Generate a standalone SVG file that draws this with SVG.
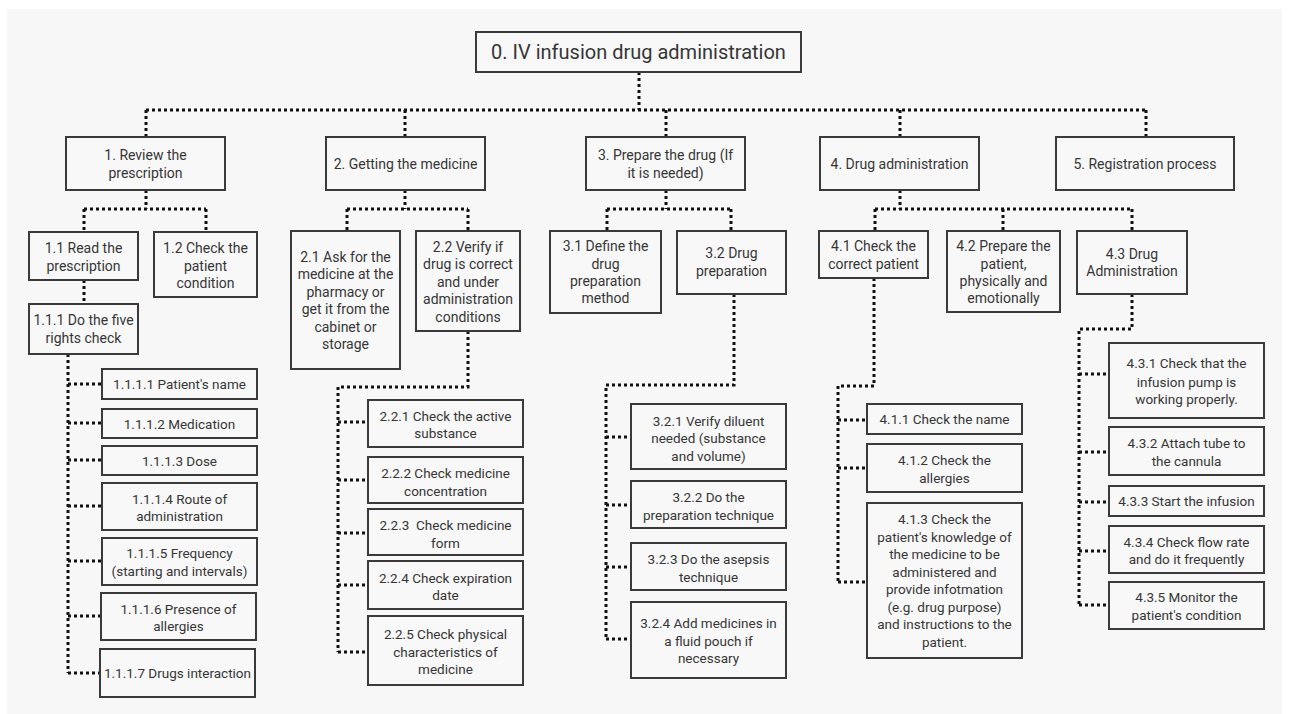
<svg xmlns="http://www.w3.org/2000/svg" width="1289" height="714" viewBox="0 0 1289 714">
<style>
.bg{fill:#f7f7f7}
.box{fill:#f8f8f8;stroke:#3a3a3a;stroke-width:2}
text{font-family:Roboto,"Liberation Sans",sans-serif;fill:#363636;text-anchor:middle}
.t0{font-size:20px}
.t1{font-size:14px}
.t2{font-size:14px}
.t3{font-size:13.5px}
.conn path{fill:none;stroke:#111;stroke-width:3;stroke-dasharray:3 3}
</style>
<rect width="1289" height="714" fill="#ffffff"/>
<rect class="bg" x="7" y="9" width="1275" height="705"/>

<g class="conn" id="connectors">
<path d="M639 72V110M146 110H1146M146 110V137M405 110V137M666 110V137M900 110V137M1146 110V137"/>
<path d="M146 190V209M84 209H206M84 209V232M206 209V232M84 280V304"/>
<path d="M68 354V673M68 384H102M68 423H102M68 460H102M68 506H102M68 561H102M68 616H101M68 673H100"/>
<path d="M405 190V209M347 209H468M347 209V231M468 209V231"/>
<path d="M468 331V387H338V652M338 422H368M338 480H368M338 533H368M338 585H368M338 652H368"/>
<path d="M666 190V209M607 209H731M607 209V231M731 209V231"/>
<path d="M734 294V385H606V639M606 437H631M606 505H631M606 567H631M606 639H631"/>
<path d="M900 190V209M875 209H1132M875 209V231M1003 209V231M1132 209V231"/>
<path d="M874 278V386H838V582M838 420H867M838 468H867M838 582H867"/>
<path d="M1132 294V329H1079V605M1079 374H1109M1079 452H1109M1079 502H1109M1079 551H1109M1079 605H1109"/>
</g>

<g id="n0"><rect class="box" x="476" y="32" width="325" height="40"/><text class="t0" x="638.5" y="59">0. IV infusion drug administration</text></g>

<g id="n1"><rect class="box" x="66" y="137" width="159" height="53"/><text class="t1"><tspan x="145.5" y="160">1. Review the</tspan><tspan x="145.5" y="178">prescription</tspan></text></g>
<g id="n2"><rect class="box" x="326" y="137" width="159" height="53"/><text class="t1" x="405.5" y="168.5">2. Getting the medicine</text></g>
<g id="n3"><rect class="box" x="586" y="137" width="159" height="53"/><text class="t1"><tspan x="665.5" y="160">3. Prepare the drug (If</tspan><tspan x="665.5" y="178">it is needed)</tspan></text></g>
<g id="n4"><rect class="box" x="820" y="137" width="159" height="53"/><text class="t1" x="899.5" y="168.5">4. Drug administration</text></g>
<g id="n5"><rect class="box" x="1056" y="137" width="178" height="53"/><text class="t1" x="1145" y="168.5">5. Registration process</text></g>

<g id="n1_1"><rect class="box" x="29" y="232" width="109" height="48"/><text class="t2"><tspan x="83.5" y="253">1.1 Read the</tspan><tspan x="83.5" y="271">prescription</tspan></text></g>
<g id="n1_2"><rect class="box" x="154" y="232" width="103" height="65"/><text class="t2"><tspan x="205.5" y="253">1.2 Check the</tspan><tspan x="205.5" y="271">patient</tspan><tspan x="205.5" y="288">condition</tspan></text></g>
<g id="n1_1_1"><rect class="box" x="29" y="304" width="109" height="50"/><text class="t2"><tspan x="83.5" y="325">1.1.1 Do the five</tspan><tspan x="83.5" y="343">rights check</tspan></text></g>

<g id="n1_1_1_1"><rect class="box" x="102" y="369" width="155" height="30"/><text class="t3" x="179.5" y="389">1.1.1.1 Patient's name</text></g>
<g id="n1_1_1_2"><rect class="box" x="102" y="409" width="155" height="29"/><text class="t3" x="179.5" y="428.5">1.1.1.2 Medication</text></g>
<g id="n1_1_1_3"><rect class="box" x="102" y="446" width="155" height="29"/><text class="t3" x="179.5" y="465.5">1.1.1.3 Dose</text></g>
<g id="n1_1_1_4"><rect class="box" x="102" y="483" width="155" height="47"/><text class="t3"><tspan x="179.5" y="504">1.1.1.4 Route of</tspan><tspan x="179.5" y="521">administration</tspan></text></g>
<g id="n1_1_1_5"><rect class="box" x="102" y="538" width="155" height="47"/><text class="t3"><tspan x="179.5" y="558">1.1.1.5 Frequency</tspan><tspan x="179.5" y="576">(starting and intervals)</tspan></text></g>
<g id="n1_1_1_6"><rect class="box" x="101" y="593" width="155" height="47"/><text class="t3"><tspan x="178.5" y="614">1.1.1.6 Presence of</tspan><tspan x="178.5" y="631">allergies</tspan></text></g>
<g id="n1_1_1_7"><rect class="box" x="100" y="649" width="155" height="48"/><text class="t3" x="177.5" y="678">1.1.1.7 Drugs interaction</text></g>

<g id="n2_1"><rect class="box" x="291" y="231" width="109" height="138"/><text class="t2"><tspan x="345.5" y="262">2.1 Ask for the</tspan><tspan x="345.5" y="279">medicine at the</tspan><tspan x="345.5" y="297">pharmacy or</tspan><tspan x="345.5" y="314">get it from the</tspan><tspan x="345.5" y="332">cabinet or</tspan><tspan x="345.5" y="349">storage</tspan></text></g>
<g id="n2_2"><rect class="box" x="416" y="231" width="104" height="100"/><text class="t2"><tspan x="468" y="252">2.2 Verify if</tspan><tspan x="468" y="269">drug is correct</tspan><tspan x="468" y="287">and under</tspan><tspan x="468" y="304">administration</tspan><tspan x="468" y="322">conditions</tspan></text></g>

<g id="n2_2_1"><rect class="box" x="368" y="400" width="155" height="47"/><text class="t3"><tspan x="445.5" y="421">2.2.1 Check the active</tspan><tspan x="445.5" y="438">substance</tspan></text></g>
<g id="n2_2_2"><rect class="box" x="368" y="457" width="155" height="46"/><text class="t3"><tspan x="445.5" y="478">2.2.2 Check medicine</tspan><tspan x="445.5" y="496">concentration</tspan></text></g>
<g id="n2_2_3"><rect class="box" x="368" y="509" width="155" height="46"/><text class="t3"><tspan x="445.5" y="530">2.2.3&#160; Check medicine</tspan><tspan x="445.5" y="548">form</tspan></text></g>
<g id="n2_2_4"><rect class="box" x="368" y="561" width="155" height="48"/><text class="t3"><tspan x="445.5" y="583">2.2.4 Check expiration</tspan><tspan x="445.5" y="600">date</tspan></text></g>
<g id="n2_2_5"><rect class="box" x="368" y="616" width="155" height="69"/><text class="t3"><tspan x="445.5" y="639">2.2.5 Check physical</tspan><tspan x="445.5" y="657">characteristics of</tspan><tspan x="445.5" y="674">medicine</tspan></text></g>

<g id="n3_1"><rect class="box" x="550" y="231" width="111" height="82"/><text class="t2"><tspan x="605.5" y="251">3.1 Define the</tspan><tspan x="605.5" y="269">drug</tspan><tspan x="605.5" y="286">preparation</tspan><tspan x="605.5" y="303">method</tspan></text></g>
<g id="n3_2"><rect class="box" x="677" y="231" width="109" height="63"/><text class="t2"><tspan x="731.5" y="258">3.2 Drug</tspan><tspan x="731.5" y="276">preparation</tspan></text></g>

<g id="n3_2_1"><rect class="box" x="631" y="404" width="155" height="65"/><text class="t3"><tspan x="708.5" y="426">3.2.1 Verify diluent</tspan><tspan x="708.5" y="443">needed (substance</tspan><tspan x="708.5" y="461">and volume)</tspan></text></g>
<g id="n3_2_2"><rect class="box" x="631" y="481" width="155" height="47"/><text class="t3"><tspan x="708.5" y="502">3.2.2 Do the</tspan><tspan x="708.5" y="520">preparation technique</tspan></text></g>
<g id="n3_2_3"><rect class="box" x="631" y="543" width="155" height="47"/><text class="t3"><tspan x="708.5" y="564">3.2.3 Do the asepsis</tspan><tspan x="708.5" y="582">technique</tspan></text></g>
<g id="n3_2_4"><rect class="box" x="631" y="602" width="155" height="76"/><text class="t3"><tspan x="708.5" y="628">3.2.4 Add medicines in</tspan><tspan x="708.5" y="646">a fluid pouch if</tspan><tspan x="708.5" y="663">necessary</tspan></text></g>

<g id="n4_1"><rect class="box" x="819" y="231" width="109" height="47"/><text class="t2"><tspan x="873.5" y="251">4.1 Check the</tspan><tspan x="873.5" y="269">correct patient</tspan></text></g>
<g id="n4_2"><rect class="box" x="947" y="231" width="113" height="81"/><text class="t2"><tspan x="1003.5" y="251">4.2 Prepare the</tspan><tspan x="1003.5" y="269">patient,</tspan><tspan x="1003.5" y="286">physically and</tspan><tspan x="1003.5" y="303">emotionally</tspan></text></g>
<g id="n4_3"><rect class="box" x="1077" y="231" width="110" height="63"/><text class="t2"><tspan x="1132" y="259">4.3 Drug</tspan><tspan x="1132" y="276">Administration</tspan></text></g>

<g id="n4_1_1"><rect class="box" x="867" y="404" width="155" height="30"/><text class="t3" x="944.5" y="424">4.1.1 Check the name</text></g>
<g id="n4_1_2"><rect class="box" x="867" y="444" width="155" height="48"/><text class="t3"><tspan x="944.5" y="465">4.1.2 Check the</tspan><tspan x="944.5" y="483">allergies</tspan></text></g>
<g id="n4_1_3"><rect class="box" x="867" y="503" width="155" height="155"/><text class="t3"><tspan x="944.5" y="524">4.1.3 Check the</tspan><tspan x="944.5" y="542">patient's knowledge of</tspan><tspan x="944.5" y="559">the medicine to be</tspan><tspan x="944.5" y="577">administered and</tspan><tspan x="944.5" y="594">provide infotmation</tspan><tspan x="944.5" y="612">(e.g. drug purpose)</tspan><tspan x="944.5" y="629">and instructions to the</tspan><tspan x="944.5" y="647">patient.</tspan></text></g>

<g id="n4_3_1"><rect class="box" x="1109" y="343" width="155" height="75"/><text class="t3"><tspan x="1186.5" y="368">4.3.1 Check that the</tspan><tspan x="1186.5" y="387">infusion pump is</tspan><tspan x="1186.5" y="404">working properly.</tspan></text></g>
<g id="n4_3_2"><rect class="box" x="1109" y="427" width="155" height="48"/><text class="t3"><tspan x="1186.5" y="448">4.3.2 Attach tube to</tspan><tspan x="1186.5" y="466">the cannula</tspan></text></g>
<g id="n4_3_3"><rect class="box" x="1109" y="486" width="155" height="30"/><text class="t3" x="1186.5" y="506">4.3.3 Start the infusion</text></g>
<g id="n4_3_4"><rect class="box" x="1109" y="526" width="155" height="47"/><text class="t3"><tspan x="1186.5" y="547">4.3.4 Check flow rate</tspan><tspan x="1186.5" y="564">and do it frequently</tspan></text></g>
<g id="n4_3_5"><rect class="box" x="1109" y="582" width="155" height="47"/><text class="t3"><tspan x="1186.5" y="602">4.3.5 Monitor the</tspan><tspan x="1186.5" y="620">patient's condition</tspan></text></g>
</svg>
